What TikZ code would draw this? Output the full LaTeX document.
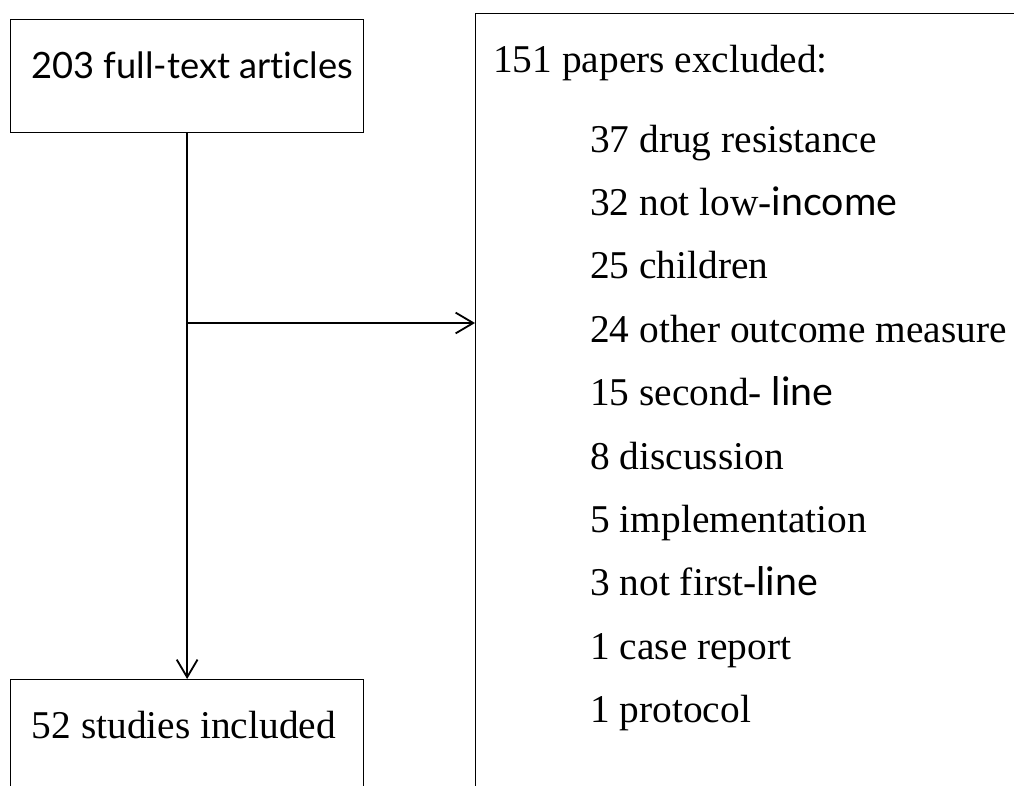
\documentclass[tikz,border=0pt]{standalone}
\usepackage{fontspec}
\setmainfont{Liberation Serif}
\newfontfamily\sansfam[Ligatures=NoCommon]{Lato}
\usetikzlibrary{positioning,arrows.meta}

\begin{document}
\begin{tikzpicture}[
    box/.style={draw, line width=0.9pt, anchor=north west, minimum width=8.825cm, minimum height=2.825cm},
    txt/.style={anchor=base west, inner sep=0pt, font=\fontsize{28}{33}\selectfont},
    flow/.style={line width=1.3pt, -{Straight Barb[length=0.44cm, width=0.52cm, line width=1.3pt]}}
]
                \clip (0,0) rectangle (25.35,-19.625);
                % Boxes
                \node[box] (full) at (0.25,-0.475) {};                                        % Top
                \node[box, minimum height=4cm] (incl) at (0.25,-16.975) {};                   % Bottom, cut
                \node[box, minimum width=15cm, minimum height=21cm] (excl) at (11.875,-0.325) {}; % Right, cut

                \node[txt, font=\fontsize{25.8}{31}\sansfam] (fulltxt) at (0.775,-1.95) {203 full-text articles};
                \node[txt] (incltxt) at (0.79,-18.47) {52 studies included};
                \node[txt] (excltxt) at (12.325,-1.8) {151 papers excluded:};

                \node[txt] (r1) at (14.75,-3.8) {37 drug resistance};
                \node[txt] (r2) at (14.75,-5.385) {32 not low-{\sansfam income}};
                \node[txt] (r3) at (14.75,-6.97) {25 children};
                \node[txt] (r4) at (14.75,-8.555) {24 other outcome measure};
                \node[txt] (r5) at (14.75,-10.14) {15 second- {\sansfam line}};
                \node[txt] (r6) at (14.75,-11.725) {8 discussion};
                \node[txt] (r7) at (14.75,-13.31) {5 implementation};
                \node[txt] (r8) at (14.75,-14.895) {3 not first-{\sansfam line}};
                \node[txt] (r9) at (14.75,-16.48) {1 case report};
                \node[txt] (r10) at (14.75,-18.065) {1 protocol};

                % Edges
                \coordinate (split) at (full.south |- 0,-8.075);
                \draw[flow] (full.south) -- (incl.north);
                \draw[flow] (split) -- (split -| excl.west);
            \end{tikzpicture}
\end{document}
